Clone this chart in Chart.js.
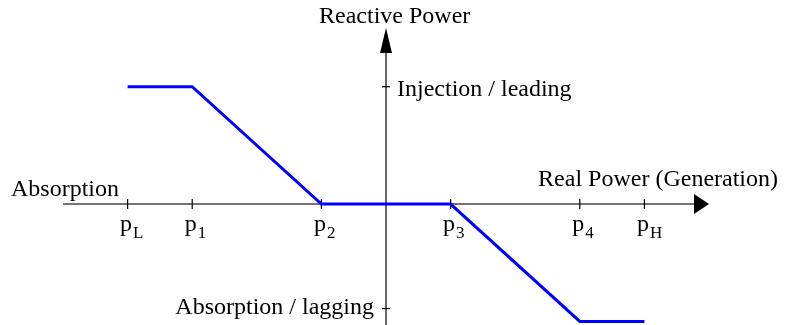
<!DOCTYPE html>
<html>
<head>
<meta charset="utf-8">
<script src="https://cdn.jsdelivr.net/npm/chart.js@4"></script>
<style>
  body { margin: 0; background: #fff; }
  canvas { display: block; }
</style>
</head>
<body>
<canvas id="qpChart" width="785" height="325"></canvas>
<script>
// curve: reactive power vs real power
const curveX = [-4, -3, -1, 1, 3, 4];
const curveY = [1, 1, 0, 0, -1, -1];

// real power break points (p subscripts)
const xTicks = [-4, -3, -1, 1, 3, 4];
const xTickSubs = ["L", "1", "2", "3", "4", "H"];

// reactive power ticks
const yTicks = [1, -0.89];
const yTickLabels = ["Injection / leading", "Absorption / lagging"];

const xTitle = "Real Power (Generation)";
const yTitle = "Reactive Power";
const leftLabel = "Absorption";

const FONT = "'Liberation Serif', 'Times New Roman', serif";

// axes, arrows, ticks and texts
const axesPlugin = {
    id: "crossAxes",
    beforeDatasetsDraw(chart) {
        const ctx = chart.ctx;
        const xs = chart.scales.x;
        const ys = chart.scales.y;
        const x0 = xs.getPixelForValue(0);
        const y0 = ys.getPixelForValue(0);
        const xEnd = xs.getPixelForValue(5);
        const yEnd = ys.getPixelForValue(1.5);

        ctx.save();
        // horizontal axis
        ctx.strokeStyle = "#444";
        ctx.lineWidth = 1.5;
        ctx.beginPath();
        ctx.moveTo(xs.getPixelForValue(-5), y0);
        ctx.lineTo(xEnd - 14, y0);
        ctx.stroke();
        ctx.fillStyle = "#000";
        ctx.beginPath();
        ctx.moveTo(xEnd, y0);
        ctx.lineTo(xEnd - 15, y0 - 10);
        ctx.lineTo(xEnd - 15, y0 + 10);
        ctx.closePath();
        ctx.fill();

        // vertical axis
        ctx.strokeStyle = "#000";
        ctx.lineWidth = 1.2;
        ctx.beginPath();
        ctx.moveTo(x0, chart.height);
        ctx.lineTo(x0, yEnd + 24);
        ctx.stroke();
        ctx.beginPath();
        ctx.moveTo(x0, yEnd);
        ctx.lineTo(x0 - 6, yEnd + 25);
        ctx.lineTo(x0 + 6, yEnd + 25);
        ctx.closePath();
        ctx.fill();

        // tick marks
        ctx.lineWidth = 1.2;
        xTicks.forEach(v => {
            const px = xs.getPixelForValue(v);
            ctx.beginPath();
            ctx.moveTo(px, y0 - 5);
            ctx.lineTo(px, y0 + 5);
            ctx.stroke();
        });
        ctx.beginPath();
        ctx.moveTo(x0 - 5, y0);
        ctx.lineTo(x0 + 5, y0);
        ctx.stroke();
        yTicks.forEach(v => {
            const py = ys.getPixelForValue(v);
            ctx.beginPath();
            ctx.moveTo(x0 - 4, py);
            ctx.lineTo(x0 + 4, py);
            ctx.stroke();
        });
        ctx.restore();
    },
    afterDraw(chart) {
        const ctx = chart.ctx;
        const xs = chart.scales.x;
        const ys = chart.scales.y;
        const x0 = xs.getPixelForValue(0);
        const y0 = ys.getPixelForValue(0);

        ctx.save();
        ctx.fillStyle = "#000";
        ctx.textBaseline = "alphabetic";
        ctx.font = "24px " + FONT;

        // titles
        ctx.textAlign = "left";
        ctx.fillText(yTitle, x0 - 67, 23);
        ctx.textAlign = "right";
        ctx.fillText(xTitle, 778, y0 - 18);
        ctx.textAlign = "left";
        ctx.fillText(leftLabel, 11, y0 - 8);

        // y tick labels
        ctx.textAlign = "left";
        ctx.fillText(yTickLabels[0], x0 + 11, ys.getPixelForValue(yTicks[0]) + 9);
        ctx.textAlign = "right";
        ctx.fillText(yTickLabels[1], x0 - 12, ys.getPixelForValue(yTicks[1]) + 5);

        // x tick labels: p with subscript
        xTicks.forEach((v, i) => {
            const px = xs.getPixelForValue(v);
            ctx.font = "24px " + FONT;
            ctx.textAlign = "left";
            ctx.fillText("p", px - 7.5, y0 + 27);
            const w = ctx.measureText("p").width;
            ctx.font = "17px " + FONT;
            ctx.fillText(xTickSubs[i], px - 7.5 + w + 1, y0 + 34);
        });
        ctx.restore();
    }
};

new Chart(document.getElementById("qpChart"), {
    type: "line",
    data: {
        datasets: [{
            data: curveX.map((x, i) => ({ x: x, y: curveY[i] })),
            borderColor: "#0000ff",
            borderWidth: 3,
            borderJoinStyle: "miter",
            pointRadius: 0,
            tension: 0,
            fill: false
        }]
    },
    options: {
        responsive: false,
        animation: false,
        layout: { padding: { left: 63, right: 76, top: 28, bottom: 0 } },
        plugins: {
            legend: { display: false },
            tooltip: { enabled: false }
        },
        scales: {
            x: { type: "linear", min: -5, max: 5, display: false },
            y: { type: "linear", min: -1.03, max: 1.5, display: false }
        }
    },
    plugins: [axesPlugin]
});
</script>
</body>
</html>
